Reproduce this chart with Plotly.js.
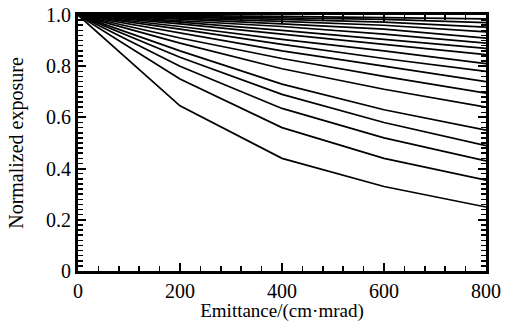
<!DOCTYPE html>
<html>
<head>
<meta charset="utf-8">
<script src="https://cdn.plot.ly/plotly-3.0.1.min.js"></script>
<style>html,body{margin:0;padding:0;background:#fff;}#chart{width:507px;height:322px;}</style>
</head>
<body>
<div id="chart"></div>
<script>
// Emittance values (cm·mrad)
const emittance = [0, 200, 400, 600, 800];
// Normalized exposure curves, bottom to top
const curve01 = [1.0, 0.645, 0.44, 0.33, 0.25];
const curve02 = [1.0, 0.75, 0.56, 0.44, 0.355];
const curve03 = [1.0, 0.80, 0.635, 0.52, 0.43];
const curve04 = [1.0, 0.835, 0.69, 0.58, 0.49];
const curve05 = [1.0, 0.86, 0.73, 0.63, 0.55];
const curve06 = [1.0, 0.89, 0.79, 0.71, 0.64];
const curve07 = [1.0, 0.91, 0.83, 0.76, 0.695];
const curve08 = [1.0, 0.93, 0.86, 0.80, 0.74];
const curve09 = [1.0, 0.945, 0.885, 0.83, 0.78];
const curve10 = [1.0, 0.955, 0.905, 0.86, 0.81];
const curve11 = [1.0, 0.965, 0.925, 0.885, 0.845];
const curve12 = [1.0, 0.972, 0.94, 0.905, 0.87];
const curve13 = [1.0, 0.978, 0.955, 0.925, 0.89];
const curve14 = [1.0, 0.984, 0.965, 0.945, 0.91];
const curve15 = [1.0, 0.988, 0.975, 0.96, 0.934];
const curve16 = [1.0, 0.992, 0.983, 0.972, 0.953];
const curve17 = [1.0, 0.995, 0.99, 0.983, 0.97];
const curve18 = [1.0, 0.998, 0.995, 0.99, 0.985];

const xTickVals = [0, 200, 400, 600, 800];
const xTickText = ['0', '200', '400', '600', '800'];
const yTickVals = [0, 0.2, 0.4, 0.6, 0.8, 1.0];
const yTickText = ['0', '0.2', '0.4', '0.6', '0.8', '1.0'];

const curves = [curve01, curve02, curve03, curve04, curve05, curve06, curve07, curve08, curve09,
  curve10, curve11, curve12, curve13, curve14, curve15, curve16, curve17, curve18];

const traces = curves.map(c => ({
  x: emittance, y: c, type: 'scatter', mode: 'lines',
  line: {color: '#000', width: 1.7}, showlegend: false, hoverinfo: 'skip'
}));

const FAM = 'Liberation Serif, Times New Roman, serif';

const layout = {
  width: 507, height: 322,
  margin: {l: 78, r: 21, t: 15, b: 51},
  paper_bgcolor: '#fff', plot_bgcolor: '#fff',
  showlegend: false,
  font: {family: FAM, size: 20, color: '#000'},
  xaxis: {
    range: [0, 800], tickvals: xTickVals, ticktext: xTickText,
    ticks: 'inside', ticklen: 8, tickwidth: 2, tickcolor: '#000',
    minor: {dtick: 40, ticks: 'inside', ticklen: 5, tickwidth: 1.5, tickcolor: '#000'},
    showline: true, linecolor: '#000', linewidth: 3, mirror: 'ticks',
    showgrid: false, zeroline: false,
    tickfont: {family: FAM, size: 20, color: '#000'},
    title: {text: 'Emittance/(cm·mrad)', font: {family: FAM, size: 19, color: '#000'}, standoff: 0}
  },
  yaxis: {
    range: [0, 1.0], tickvals: yTickVals, ticktext: yTickText,
    ticks: 'inside', ticklen: 8, tickwidth: 2, tickcolor: '#000',
    minor: {dtick: 0.02, ticks: 'inside', ticklen: 5, tickwidth: 1.5, tickcolor: '#000'},
    showline: true, linecolor: '#000', linewidth: 3, mirror: 'ticks',
    showgrid: false, zeroline: false,
    tickfont: {family: FAM, size: 20, color: '#000'},
    title: {text: 'Normalized exposure', font: {family: FAM, size: 20, color: '#000'}, standoff: 18}
  }
};

Plotly.newPlot('chart', traces, layout, {staticPlot: true, displayModeBar: false});
</script>
</body>
</html>
